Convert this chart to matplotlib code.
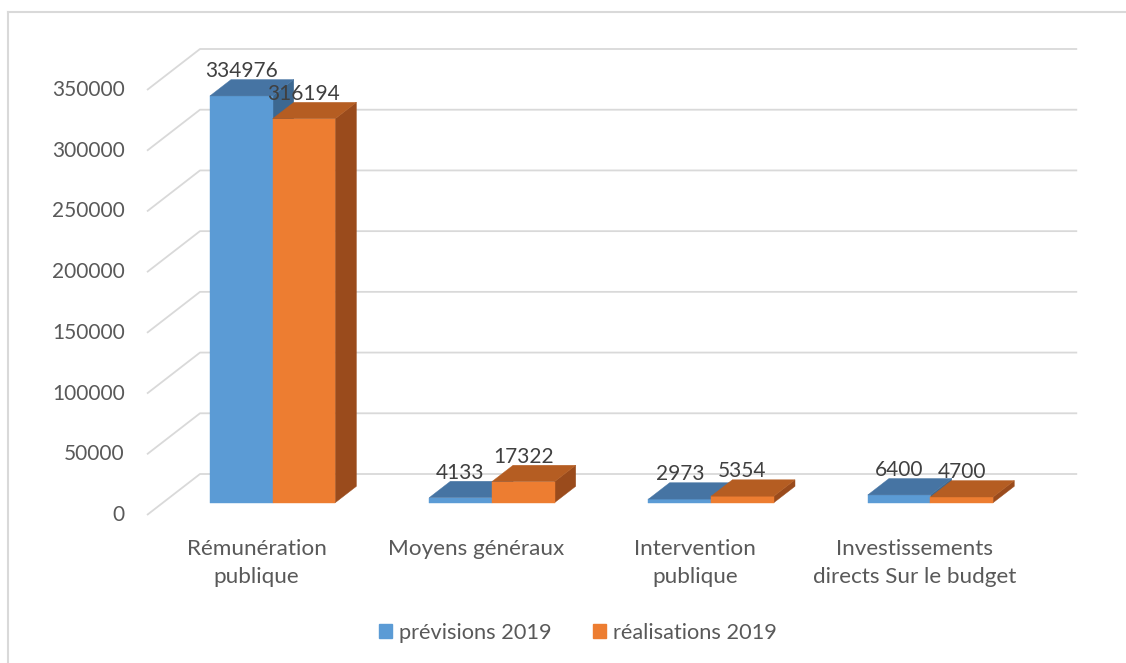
import numpy as np
import matplotlib.pyplot as plt
from matplotlib.patches import Polygon
from matplotlib.lines import Line2D

plt.rcParams['font.family'] = ['Lato', 'DejaVu Sans']

# === Daten ===
categories = ['Rémunération\npublique', 'Moyens généraux',
              'Intervention\npublique', 'Investissements\ndirects Sur le budget']
previsions = [334976, 4133, 2973, 6400]
realisations = [316194, 17322, 5354, 4700]
series_names = ['prévisions 2019', 'réalisations 2019']
yticks = np.arange(0, 350001, 50000)

# === Farben (Front, Deckel, Seite) ===
colors = [('#5B9BD5', '#4674A3', '#3C6891'),
          ('#ED7D31', '#B55D22', '#9A4B1C')]
grid_col = '#D9D9D9'

# === Geometrie der Pseudo-3D-Darstellung ===
W, H = 1126, 663
px_per_cat = 219.3
val_per_px = 350000 / 425
DX = 53 / px_per_cat          # Tiefenversatz in Kategorie-Einheiten
DY = 41 * val_per_px          # Tiefenversatz in Werte-Einheiten
bar_w = 1 / 3.5               # gap width 150 %
z0, z1 = 0.3, 0.7             # gap depth 150 %


def P(x, v, z):
    return (x + z * DX, v + z * DY)


fig = plt.figure(figsize=(W / 100, H / 100), dpi=100)
ax_left, ax_right, ax_bot, ax_top = 147, 1080, 515, 48
ax = fig.add_axes([ax_left / W, (H - ax_bot) / H,
                   (ax_right - ax_left) / W, (ax_bot - ax_top) / H])
ax.set_xlim(-0.5, -0.5 + (ax_right - ax_left) / px_per_cat)
ax.set_ylim(0, (ax_bot - ax_top) * val_per_px)
ax.axis('off')

# === Gitterlinien (Rückwand + Seitenwand) ===
n = len(categories)
for v in yticks:
    pts = [P(-0.5, v, 0), P(-0.5, v, 1), P(n - 0.5, v, 1)]
    ax.plot([p[0] for p in pts], [p[1] for p in pts], color=grid_col, lw=1.3,
            solid_capstyle='butt', clip_on=False, zorder=1)
    fx, fy = P(-0.5, v, 0)
    ax.annotate(f'{v}', (fx, fy), xytext=(-16, 0), textcoords='offset points',
                ha='right', va='center', fontsize=15, color='#595959')

# === Balken ===
for i in range(n):
    for s, vals in enumerate([previsions, realisations]):
        v = vals[i]
        x0 = i - bar_w + s * bar_w
        x1 = x0 + bar_w
        front_c, top_c, side_c = colors[s]
        side = [P(x1, 0, z0), P(x1, 0, z1), P(x1, v, z1), P(x1, v, z0)]
        front = [P(x0, 0, z0), P(x1, 0, z0), P(x1, v, z0), P(x0, v, z0)]
        top = [P(x0, v, z0), P(x1, v, z0), P(x1, v, z1), P(x0, v, z1)]
        for poly, c in [(side, side_c), (front, front_c), (top, top_c)]:
            ax.add_patch(Polygon(poly, closed=True, facecolor=c, edgecolor=c,
                                 lw=0.3, clip_on=False, zorder=2 + i))
        lx = (x0 + x1) / 2 + z0 * DX
        ly = P(x0, v, 0.5)[1]
        ax.annotate(f'{v}', (lx, ly), xytext=(0, 12), textcoords='offset points',
                    ha='center', va='center', fontsize=15, color='#404040',
                    zorder=20)

# === Kategorie-Beschriftungen ===
for i, cat in enumerate(categories):
    ax.annotate(cat, (i, 0), xytext=(0, -17), textcoords='offset points',
                ha='center', va='top', fontsize=16.2, color='#595959',
                linespacing=1.55)

# === Legende ===
handles = [plt.Rectangle((0, 0), 1, 1, color=colors[s][0]) for s in range(2)]
fig.legend(handles, series_names, loc='center', ncol=2,
           bbox_to_anchor=(578 / W, 1 - 633 / H), frameon=False,
           fontsize=15.7, labelcolor='#595959', handlelength=0.6,
           handleheight=0.6, handletextpad=0.3, columnspacing=1.9)

# === Rahmen (nur oben und links sichtbar) ===
fig.add_artist(Line2D([8 / W, 1], [1 - 12 / H, 1 - 12 / H], color=grid_col, lw=1.5))
fig.add_artist(Line2D([8 / W, 8 / W], [0, 1 - 12 / H], color=grid_col, lw=1.5))

fig.savefig('out.png', dpi=100)
